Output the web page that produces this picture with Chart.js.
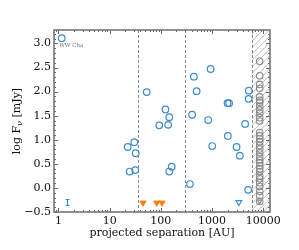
<!DOCTYPE html>
<html><head><meta charset="utf-8">
<script src="https://cdn.jsdelivr.net/npm/chart.js@4/dist/chart.umd.min.js"></script>
<style>html,body{margin:0;padding:0;background:#fff;}</style>
</head><body>
<canvas id="c" width="299" height="250"></canvas>
<script>
// ---- data ----
const blueX = [1.16, 22.5, 30.3, 32.3, 24.6, 31.6, 52.9, 93, 123, 146, 139, 163, 146, 407, 441, 499, 935, 840, 2005, 2150, 5210, 5170, 4410, 2030, 1005, 3000, 3480, 369, 5060];
const blueY = [3.11, 0.85, 0.95, 0.72, 0.34, 0.37, 1.99, 1.30, 1.63, 1.47, 1.31, 0.44, 0.34, 1.52, 2.31, 2.01, 2.47, 1.41, 1.76, 1.76, 2.02, 1.85, 1.33, 1.08, 0.87, 0.85, 0.67, 0.08, -0.04];
const grayX = [8500, 8500, 8500, 8500, 8500, 8500, 8500, 8500, 8500, 8500, 8500, 8500, 8500, 8500, 8500, 8500, 8500, 8500, 8500, 8500, 8500, 8500, 8500, 8500, 8500, 8500, 8500, 8500, 8500, 8500, 8500, 8500];
const grayY = [2.63, 2.33, 2.15, 2.07, 1.89, 1.82, 1.78, 1.70, 1.62, 1.55, 1.46, 1.39, 1.15, 1.08, 1.02, 0.96, 0.88, 0.81, 0.73, 0.65, 0.58, 0.52, 0.46, 0.40, 0.34, 0.25, 0.19, 0.11, 0.03, -0.07, -0.16, -0.28];
const limX = [45, 83, 105];
const limY = [-0.31, -0.31, -0.31];
const openLimX = [3330];
const openLimY = [-0.30];
const grayLimX = [8500];
const grayLimY = [-0.28];
const dashX = [35, 300, 6000];
const hatchFrom = 6000;
const xTicks = [1, 10, 100, 1000, 10000];
const yTicks = [-0.5, 0, 0.5, 1, 1.5, 2, 2.5, 3];
const errBarX = [1.5];
const errBarY = [-0.3];
const errBarE = [0.06];
const labelText = 'WW Cha';
const labelAt = [1.16, 3.11];

const BLUE = '#3d8cd0', GRAY = '#8c8c8c', ORANGE = '#ff7f0e';
const SERIF = '"DejaVu Serif", serif';
const pts = (xs, ys) => xs.map((x, i) => ({x, y: ys[i]}));

const decor = {
  id: 'decor',
  beforeDatasetsDraw(chart) {
    const {ctx, chartArea: a, scales: {x, y}} = chart;
    ctx.save();
    const hx = x.getPixelForValue(hatchFrom);
    const H = a.bottom - a.top;
    ctx.beginPath(); ctx.rect(hx, a.top, a.right - hx, H); ctx.clip();
    ctx.strokeStyle = '#bdbdbd'; ctx.lineWidth = 1;
    for (let k = -H - 20; k < (a.right - hx) + 20; k += 6.5) {
      ctx.beginPath();
      ctx.moveTo(hx + k, a.bottom + 5);
      ctx.lineTo(hx + k + H + 10, a.top - 5);
      ctx.stroke();
    }
    ctx.restore();
    ctx.save();
    ctx.strokeStyle = '#888'; ctx.lineWidth = 1; ctx.setLineDash([3, 2]);
    dashX.forEach(v => {
      const px = Math.round(x.getPixelForValue(v)) + 0.5;
      ctx.beginPath(); ctx.moveTo(px, a.top); ctx.lineTo(px, a.bottom); ctx.stroke();
    });
    ctx.setLineDash([]);
    ctx.strokeStyle = BLUE; ctx.lineWidth = 1.2;
    errBarX.forEach((v, i) => {
      const px = Math.round(x.getPixelForValue(v)) + 0.5;
      const y1 = Math.round(y.getPixelForValue(errBarY[i] + errBarE[i])) + 0.5;
      const y2 = Math.round(y.getPixelForValue(errBarY[i] - errBarE[i])) + 0.5;
      ctx.beginPath();
      ctx.moveTo(px, y1); ctx.lineTo(px, y2);
      ctx.moveTo(px - 2, y1); ctx.lineTo(px + 2, y1);
      ctx.moveTo(px - 2, y2); ctx.lineTo(px + 2, y2);
      ctx.stroke();
    });
    ctx.fillStyle = '#777'; ctx.font = '5.5px ' + SERIF;
    ctx.textBaseline = 'middle'; ctx.textAlign = 'left';
    ctx.fillText(labelText, x.getPixelForValue(labelAt[0]) - 2.5, y.getPixelForValue(labelAt[1]) + 7);
    ctx.restore();
  },
  afterDraw(chart) {
    const {ctx, chartArea: a, scales: {x, y}} = chart;
    ctx.save();
    ctx.strokeStyle = '#666'; ctx.lineWidth = 1;
    const xmin = x.min, xmax = x.max;
    for (let d = 0.1; d <= 100000; d *= 10) {
      for (let m = 1; m < 10; m++) {
        const v = d * m;
        if (v < xmin || v > xmax) continue;
        const px = Math.round(x.getPixelForValue(v)) + 0.5;
        const len = m === 1 ? 4 : 2;
        ctx.beginPath();
        ctx.moveTo(px, a.bottom); ctx.lineTo(px, a.bottom - len);
        ctx.moveTo(px, a.top); ctx.lineTo(px, a.top + len);
        ctx.stroke();
      }
    }
    for (let i = -5; i <= 33; i++) {
      const v = i / 10;
      if (v < y.min || v > y.max) continue;
      const py = Math.round(y.getPixelForValue(v)) + 0.5;
      const len = (i % 5 === 0) ? 4 : 2;
      ctx.beginPath();
      ctx.moveTo(a.left, py); ctx.lineTo(a.left + len, py);
      ctx.moveTo(a.right, py); ctx.lineTo(a.right - len, py);
      ctx.stroke();
    }
    ctx.strokeStyle = '#777'; ctx.lineWidth = 1.6;
    ctx.strokeRect(a.left, a.top, a.right - a.left, a.bottom - a.top);
    ctx.fillStyle = '#111';
    ctx.font = '11px ' + SERIF; ctx.textBaseline = 'middle'; ctx.textAlign = 'center';
    ctx.fillText('projected separation [AU]', (a.left + a.right) / 2, 233);
    ctx.save();
    ctx.translate(17, (a.top + a.bottom) / 2);
    ctx.rotate(-Math.PI / 2);
    const p1 = 'log F', p2 = '\u03bd', p3 = ' [mJy]';
    ctx.font = '11px ' + SERIF; const w1 = ctx.measureText(p1).width, w3 = ctx.measureText(p3).width;
    ctx.font = '8px ' + SERIF; const w2 = ctx.measureText(p2).width;
    let sx = -(w1 + w2 + w3) / 2;
    ctx.textAlign = 'left';
    ctx.font = '11px ' + SERIF; ctx.fillText(p1, sx, 0); sx += w1;
    ctx.font = '8px ' + SERIF; ctx.fillText(p2, sx, 3); sx += w2;
    ctx.font = '11px ' + SERIF; ctx.fillText(p3, sx, 0);
    ctx.restore();
    ctx.restore();
  }
};

new Chart(document.getElementById('c'), {
  type: 'scatter',
  data: {
    datasets: [
      {data: pts(grayX, grayY), pointStyle: 'circle', pointRadius: 3.3, borderColor: GRAY, backgroundColor: 'rgba(255,255,255,0)', borderWidth: 1.1},
      {data: pts(grayLimX, grayLimY), pointStyle: 'triangle', rotation: 180, pointRadius: 2.6, borderColor: GRAY, backgroundColor: 'rgba(255,255,255,0)', borderWidth: 1.1},
      {data: pts(blueX, blueY), pointStyle: 'circle', pointRadius: 3.3, borderColor: BLUE, backgroundColor: 'rgba(255,255,255,0)', borderWidth: 1.2},
      {data: pts(openLimX, openLimY), pointStyle: 'triangle', rotation: 180, pointRadius: 3.3, borderColor: BLUE, backgroundColor: 'rgba(255,255,255,0)', borderWidth: 1.2},
      {data: pts(limX, limY), pointStyle: 'triangle', rotation: 180, pointRadius: 3.5, borderColor: ORANGE, backgroundColor: ORANGE, borderWidth: 1}
    ]
  },
  options: {
    responsive: false, animation: false, devicePixelRatio: 1,
    layout: {padding: {left: 0, top: 30, right: 29, bottom: 0}},
    plugins: {legend: {display: false}, tooltip: {enabled: false}},
    scales: {
      x: {
        type: 'logarithmic', min: 0.82, max: 13500,
        grid: {display: false, drawTicks: false}, border: {display: false},
        afterFit: s => { s.height = 38; },
        afterBuildTicks: s => { s.ticks = xTicks.map(v => ({value: v})); },
        ticks: {autoSkip: false, maxRotation: 0, padding: 3, color: '#111', font: {family: SERIF, size: 11},
                callback: v => String(v)}
      },
      y: {
        type: 'linear', min: -0.5, max: 3.28,
        grid: {display: false, drawTicks: false}, border: {display: false},
        afterFit: s => { s.width = 54; },
        afterBuildTicks: s => { s.ticks = yTicks.map(v => ({value: v})); },
        ticks: {autoSkip: false, padding: 3, color: '#111', font: {family: SERIF, size: 11},
                callback: v => (v < 0 ? '\u2212' : '') + Math.abs(v).toFixed(1)}
      }
    }
  },
  plugins: [decor]
});
</script>
</body></html>
